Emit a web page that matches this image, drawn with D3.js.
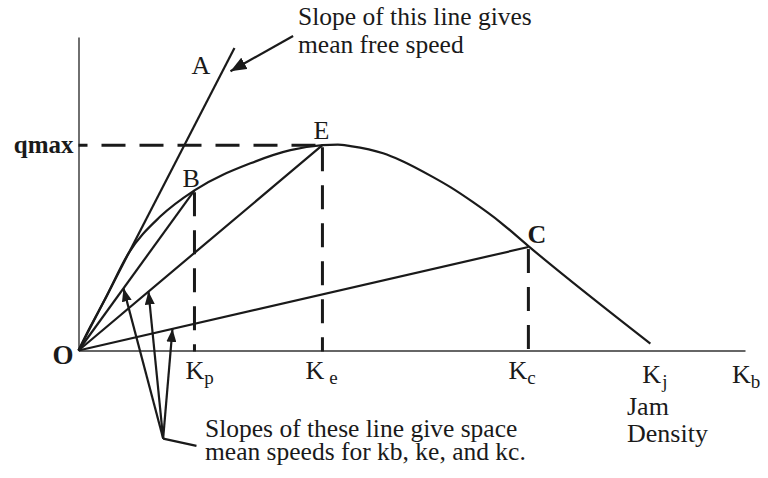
<!DOCTYPE html>
<html>
<head>
<meta charset="utf-8">
<script src="https://cdn.jsdelivr.net/npm/d3@7"></script>
<style>
  body { margin: 0; background: #fff; }
  svg text { font-family: 'Liberation Serif', 'Times New Roman', serif; fill: #1a1a1a; }
</style>
</head>
<body>
<svg id="chart"></svg>
<script>
// flow (q) against density (k), arbitrary units 0..100
const curveK = [0, 1.8, 3.9, 7.5, 12.3, 17.4, 25.8, 31.8, 36.6, 38.9, 40.8, 45.7, 48.3, 53.2, 55.8, 59.2, 63.3, 67.5, 85.8];
const curveQ = [0, 7.7, 16, 31, 42.8, 51.1, 59.7, 63.9, 65.5, 65.7, 65.2, 62.9, 60.7, 55.3, 52.1, 47.3, 40.9, 33.3, 2.2];

// free speed line O -> A
const freeK = 23.4, freeQ = 96.5;

// chord points on the curve
const chordNames = ['B', 'E', 'C'];
const chordK = [17.4, 36.6, 67.5];
const chordQ = [51.1, 65.5, 33.0];

const qmax = 65.5;

// density labels on the x axis
const densitySubs = ['p', 'e', 'c', 'j', 'b'];
const densityK = [17.4, 36.6, 67.5, 85.8, 100];

// where the three lower arrows hit the chords (density value on each chord)
const arrowHitK = [6.75, 10.5, 14.1];

const width = 768, height = 478;
const svg = d3.select('#chart').attr('width', width).attr('height', height);

const x = d3.scaleLinear().domain([0, 100]).range([78.5, 745]);
const y = d3.scaleLinear().domain([0, 100]).range([350.5, 37]);

const ink = '#1a1a1a';

const defs = svg.append('defs');
function marker(id, len, wid) {
  defs.append('marker')
    .attr('id', id)
    .attr('markerUnits', 'userSpaceOnUse')
    .attr('viewBox', `0 0 ${len} ${wid}`)
    .attr('refX', len).attr('refY', wid / 2)
    .attr('markerWidth', len).attr('markerHeight', wid)
    .attr('orient', 'auto')
    .append('path')
    .attr('d', `M0,0L${len},${wid / 2}L0,${wid}Z`)
    .attr('fill', ink);
}
marker('headBig', 16, 13);
marker('headSmall', 13, 10);

// axes (no ticks, just the lines)
svg.append('g')
  .attr('transform', `translate(0,${y(0)})`)
  .call(d3.axisBottom(x).tickValues([]).tickSizeOuter(0));
svg.append('g')
  .attr('transform', `translate(${x(0)},0)`)
  .call(d3.axisLeft(y).tickValues([]).tickSizeOuter(0));
svg.selectAll('.domain').attr('stroke', '#333').attr('stroke-width', 1.4);

// dashed guides
const dash = '24,14';
svg.append('line')
  .attr('x1', x(0)).attr('y1', y(qmax))
  .attr('x2', x(chordK[1])).attr('y2', y(qmax))
  .attr('stroke', ink).attr('stroke-width', 3)
  .attr('stroke-dasharray', dash).attr('stroke-dashoffset', 15);

chordK.forEach((k, i) => {
  svg.append('line')
    .attr('x1', x(k)).attr('y1', y(chordQ[i]) + 2)
    .attr('x2', x(k)).attr('y2', y(0) + 1)
    .attr('stroke', ink).attr('stroke-width', 3)
    .attr('stroke-dasharray', dash);
});

// flow-density curve
const line = d3.line()
  .x(d => x(d[0]))
  .y(d => y(d[1]))
  .curve(d3.curveMonotoneX);

svg.append('path')
  .datum(d3.zip(curveK, curveQ))
  .attr('d', line)
  .attr('fill', 'none')
  .attr('stroke', ink)
  .attr('stroke-width', 2.2);

// free speed line
svg.append('line')
  .attr('x1', x(0)).attr('y1', y(0))
  .attr('x2', x(freeK)).attr('y2', y(freeQ))
  .attr('stroke', ink).attr('stroke-width', 2.2);

// chords O -> B, E, C
chordK.forEach((k, i) => {
  svg.append('line')
    .attr('x1', x(0)).attr('y1', y(0))
    .attr('x2', x(k)).attr('y2', y(chordQ[i]))
    .attr('stroke', ink).attr('stroke-width', 2.2);
});

// point labels
const font = 26;
svg.append('text').attr('x', x(freeK) - 43).attr('y', 74).style('font-size', font + 'px').text('A');
const labelDx = [-12, -9, -1];
const labelDy = [-3, -6, -4];
chordNames.forEach((n, i) => {
  svg.append('text')
    .attr('x', x(chordK[i]) + labelDx[i])
    .attr('y', y(chordQ[i]) + labelDy[i])
    .style('font-size', font + 'px')
    .style('font-weight', n === 'C' ? 'bold' : 'normal')
    .text(n);
});

svg.append('text')
  .attr('x', x(0) - 5).attr('y', y(qmax) + 8)
  .attr('text-anchor', 'end')
  .style('font-size', '25px').style('font-weight', 'bold')
  .text('qmax');

svg.append('text')
  .attr('x', x(0) - 5).attr('y', y(0) + 13)
  .attr('text-anchor', 'end')
  .style('font-size', '27px').style('font-weight', 'bold')
  .text('O');

// K labels with subscripts
const kDx = [-9, -17, -20, -8, -13];
const kBase = [379, 379, 379, 383, 383];
const subGap = [0, 5, 0, 1, 0];
densitySubs.forEach((s, i) => {
  const t = svg.append('text')
    .attr('x', x(densityK[i]) + kDx[i])
    .attr('y', kBase[i])
    .style('font-size', font + 'px');
  t.append('tspan').text('K');
  t.append('tspan')
    .attr('dx', subGap[i]).attr('dy', 5)
    .style('font-size', '19px')
    .text(s);
});

const jam = svg.append('text').attr('x', 627).attr('y', 415).style('font-size', font + 'px');
jam.append('tspan').text('Jam');
jam.append('tspan').attr('x', 627).attr('dy', 27).text('Density');

// annotations
const note1 = svg.append('text').attr('x', 298).attr('y', 25).style('font-size', '25.5px');
note1.append('tspan').text('Slope of this line gives');
note1.append('tspan').attr('x', 298).attr('dy', 28).text('mean free speed');

svg.append('line')
  .attr('x1', x(32.2)).attr('y1', y(100.3))
  .attr('x2', x(22.8)).attr('y2', y(89.1))
  .attr('stroke', ink).attr('stroke-width', 2.2)
  .attr('marker-end', 'url(#headBig)');

const tailK = 12.7, tailQ = -28.1;
arrowHitK.forEach((k, i) => {
  const q = k * chordQ[i] / chordK[i];
  svg.append('line')
    .attr('x1', x(tailK)).attr('y1', y(tailQ))
    .attr('x2', x(k)).attr('y2', y(q))
    .attr('stroke', ink).attr('stroke-width', 2.2)
    .attr('marker-end', 'url(#headSmall)');
});
svg.append('line')
  .attr('x1', x(tailK)).attr('y1', y(tailQ))
  .attr('x2', x(17.7)).attr('y2', y(-30.4))
  .attr('stroke', ink).attr('stroke-width', 2.2);

const note2 = svg.append('text').attr('x', 205).attr('y', 437).style('font-size', '25.5px');
note2.append('tspan').text('Slopes of these line give space');
note2.append('tspan').attr('x', 205).attr('dy', 23).text('mean speeds for kb, ke, and kc.');
</script>
</body>
</html>
